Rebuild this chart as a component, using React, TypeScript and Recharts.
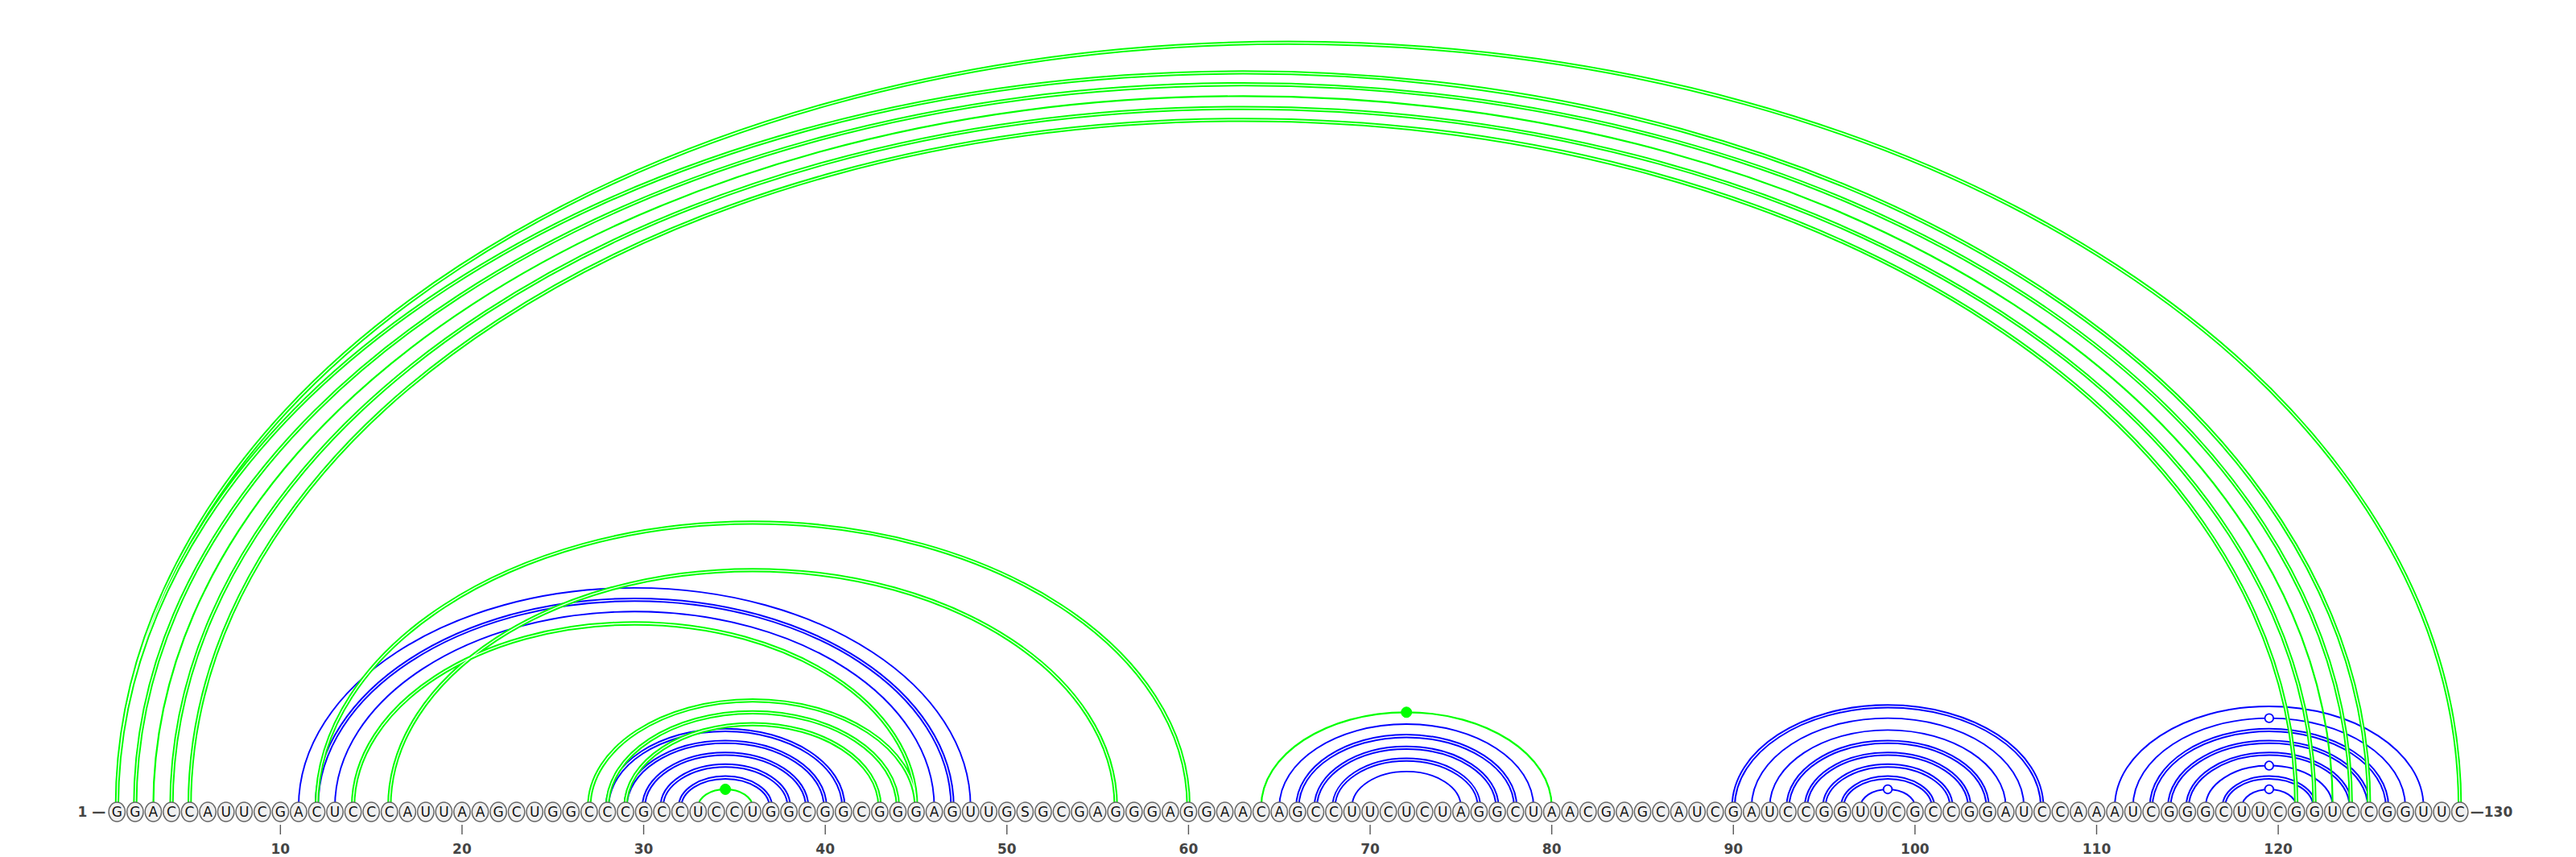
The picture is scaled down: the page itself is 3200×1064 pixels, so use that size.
import React from 'react';
import { ComposedChart, Scatter, XAxis, YAxis } from 'recharts';

// ---- data ----
const SEQUENCE_ROWS = [
  'GGACCAUUCG', 'ACUCCCAUUA', 'AGCUGGCCCG', 'CCUCCUGGCG', 'GCGGGAGUUG',
  'SGCGAGGGAG', 'GAACAGCCUU', 'CUCUAGGCUA', 'ACGAGCAUCG', 'AUCCGGUUCG',
  'CCGGAUCCAA', 'AUCGGGCUUC', 'GGUCCGGUUC',
];
const BASES = SEQUENCE_ROWS.join('').split('');

const GREEN_DOUBLE_PAIRS = [
  [1, 130], [1, 125], [2, 124], [4, 122], [5, 121],
  [12, 60], [14, 45], [16, 56], [27, 45], [28, 44], [29, 43],
];
const GREEN_SINGLE_PAIRS = [[3, 123], [33, 36], [64, 80]];
const BLUE_DOUBLE_PAIRS = [
  [12, 47], [28, 41], [29, 40], [30, 39], [31, 38], [32, 37],
  [66, 78], [67, 77], [68, 76],
  [90, 107], [93, 104], [94, 103], [95, 102], [96, 101],
  [113, 126], [114, 125], [115, 124], [117, 122],
];
const BLUE_SINGLE_PAIRS = [
  [11, 48], [13, 46], [65, 79], [69, 75], [91, 106], [92, 105], [97, 100],
  [111, 128], [112, 127], [116, 123], [118, 121],
];
const GREEN_DOT_PAIRS = [[33, 36], [64, 80]];
const BLUE_RING_PAIRS = [[97, 100], [112, 127], [116, 123], [118, 121]];

const POSITION_TICKS = [10, 20, 30, 40, 50, 60, 70, 80, 90, 100, 110, 120];
const END_LABELS = [
  { pos: 1, text: '1 \u2014' },
  { pos: 130, text: '\u2014130' },
];

// ---- helpers ----
const GREEN = '#00ff00';
const BLUE = '#0000ff';
const ARC_RATIO = 0.652;
const KAPPA = 0.5523;
const FONT = '"DejaVu Sans", "Lucida Grande", sans-serif';

const toPoints = (pairs: number[][]) =>
  pairs.flatMap(([i, j]) => [{ x: i, y: 0 }, { x: j, y: 0 }]);
const baseData = BASES.map((b, k) => ({ x: k + 1, y: 0, base: b }));
const endData = END_LABELS.map((d) => ({ x: d.pos, y: 0, text: d.text }));

// custom d3 curve: every two consecutive points become a half-ellipse arc
const arcCurve = (context: any) => {
  let n = 0;
  let x0 = 0;
  let y0 = 0;
  return {
    areaStart() {},
    areaEnd() {},
    lineStart() { n = 0; },
    lineEnd() {},
    point(x: number, y: number) {
      x = +x; y = +y;
      if (n % 2 === 0) {
        context.moveTo(x, y);
        x0 = x; y0 = y;
      } else {
        const rx = (x - x0) / 2;
        const ry = rx * ARC_RATIO;
        const mx = x0 + rx;
        const top = y0 - ry;
        context.bezierCurveTo(x0, y0 - ry * KAPPA, mx - rx * KAPPA, top, mx, top);
        context.bezierCurveTo(mx + rx * KAPPA, top, x, y - ry * KAPPA, x, y);
      }
      n++;
    },
  };
};

const apexCurve = (r: number) => (context: any) => {
  let n = 0;
  let x0 = 0;
  let y0 = 0;
  return {
    areaStart() {},
    areaEnd() {},
    lineStart() { n = 0; },
    lineEnd() {},
    point(x: number, y: number) {
      x = +x; y = +y;
      if (n % 2 === 0) {
        x0 = x; y0 = y;
      } else {
        const rx = (x - x0) / 2;
        const cx = x0 + rx;
        const cy = y0 - rx * ARC_RATIO;
        context.moveTo(cx + r, cy);
        context.arc(cx, cy, r, 0, Math.PI * 2);
      }
      n++;
    },
  };
};

const NoShape = () => <g />;

const BaseShape = (props: any) => {
  const { cx, cy, payload } = props;
  const yc = cy + 6;
  return (
    <g>
      <ellipse cx={cx} cy={yc} rx={10.2} ry={12} fill="#f0f0f0" stroke="#666" strokeWidth={1.4} />
      <text x={cx} y={yc} dy="0.36em" textAnchor="middle" fontFamily={FONT} fontSize={17} fill="#111">
        {payload.base}
      </text>
    </g>
  );
};

const EndLabelShape = (props: any) => {
  const { cx, cy, payload } = props;
  const left = payload.x === 1;
  return (
    <text
      x={left ? cx - 14 : cx + 13}
      y={cy + 6}
      dy="0.36em"
      textAnchor={left ? 'end' : 'start'}
      fontFamily={FONT}
      fontWeight="bold"
      fontSize={17}
      fill="#444"
    >
      {payload.text}
    </text>
  );
};

const arcSeries = (key: string, pairs: number[][], stroke: string, width: number) => (
  <Scatter
    key={key}
    data={toPoints(pairs)}
    shape={NoShape}
    line={{ stroke, strokeWidth: width }}
    lineType="joint"
    lineJointType={arcCurve as any}
    isAnimationActive={false}
  />
);

export default function App() {
  return (
    <ComposedChart width={3184} height={1056} margin={{ top: 0, right: 125, bottom: 0, left: 126 }}>
      <XAxis
        type="number"
        dataKey="x"
        domain={[0.5, 130.5]}
        ticks={POSITION_TICKS}
        axisLine={false}
        tickLine={{ stroke: '#555', strokeWidth: 1.4 }}
        tickSize={12}
        tickMargin={12}
        height={40}
        tick={{ fontFamily: FONT, fontSize: 17, fontWeight: 'bold', fill: '#444' }}
      />
      <YAxis type="number" dataKey="y" domain={[-22, 994]} hide />
      {arcSeries('bd-o', BLUE_DOUBLE_PAIRS, BLUE, 5.3)}
      {arcSeries('bd-i', BLUE_DOUBLE_PAIRS, '#ffffff', 1.3)}
      {arcSeries('bs', BLUE_SINGLE_PAIRS, BLUE, 1.9)}
      {arcSeries('gd-o', GREEN_DOUBLE_PAIRS, GREEN, 5.3)}
      {arcSeries('gd-i', GREEN_DOUBLE_PAIRS, '#ffffff', 1.3)}
      {arcSeries('gs', GREEN_SINGLE_PAIRS, GREEN, 2.2)}
      <Scatter
        data={toPoints(GREEN_DOT_PAIRS)}
        shape={NoShape}
        line={{ stroke: GREEN, strokeWidth: 1, fill: GREEN }}
        lineType="joint"
        lineJointType={apexCurve(6.5) as any}
        isAnimationActive={false}
      />
      <Scatter
        data={toPoints(BLUE_RING_PAIRS)}
        shape={NoShape}
        line={{ stroke: BLUE, strokeWidth: 1.8, fill: '#ffffff' }}
        lineType="joint"
        lineJointType={apexCurve(5.3) as any}
        isAnimationActive={false}
      />
      <Scatter data={baseData} shape={BaseShape} isAnimationActive={false} />
      <Scatter data={endData} shape={EndLabelShape} isAnimationActive={false} />
    </ComposedChart>
  );
}
